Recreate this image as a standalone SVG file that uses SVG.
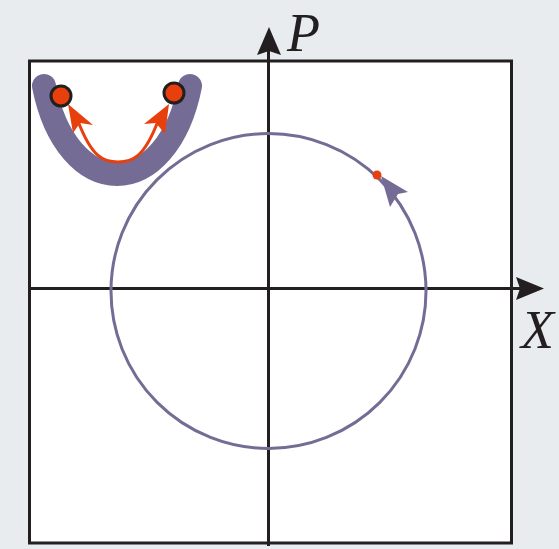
<svg xmlns="http://www.w3.org/2000/svg" width="559" height="549" viewBox="0 0 559 549">
<style>
.axis{stroke:#231f20;stroke-width:3;fill:none}
.ah{fill:#231f20}
.lbl{font-family:"Liberation Serif",serif;font-style:italic;font-size:54px;fill:#231f20}
.red{fill:#e8400c}
</style>
<rect width="559" height="549" fill="#e9ecef"/>
<rect x="29.5" y="61" width="482" height="482" fill="#ffffff" stroke="#231f20" stroke-width="3"/>
<g id="connectors">
<line class="axis" x1="268.5" y1="50" x2="268.5" y2="546"/>
<line class="axis" x1="30" y1="288.5" x2="522" y2="288.5"/>
<polygon class="ah" points="269,27 281,55 269,51 257,55"/>
<polygon class="ah" points="544,288.5 516,277 520,288.5 516,300"/>
</g>
<g id="label-P"><text class="lbl" x="287" y="51">P</text></g>
<g id="label-X"><text class="lbl" x="521" y="348">X</text></g>
<g id="orbit">
<circle cx="268.5" cy="291" r="157.5" fill="none" stroke="#746c94" stroke-width="3"/>
<polygon points="381,176 408,192 398,194 390,207" fill="#746c94"/>
<circle class="red" cx="377" cy="175" r="4.5"/>
</g>
<g id="well">
<path d="M44,86 C55,142 85,174 117,174 C149,174 179,142 190,86" fill="none" stroke="#746c94" stroke-width="24" stroke-linecap="round"/>
<path d="M78,121 C92,158 104,162 118,162 C132,162 144,158 158,121" fill="none" stroke="#e8400c" stroke-width="3"/>
<polygon class="red" points="68,104 93,125 80,123 73,133"/>
<polygon class="red" points="169,104 165,134 156,123 144,124"/>
<circle class="red" cx="61" cy="96" r="10" stroke="#231f20" stroke-width="3"/>
<circle class="red" cx="174" cy="93" r="10" stroke="#231f20" stroke-width="3"/>
</g>
</svg>
